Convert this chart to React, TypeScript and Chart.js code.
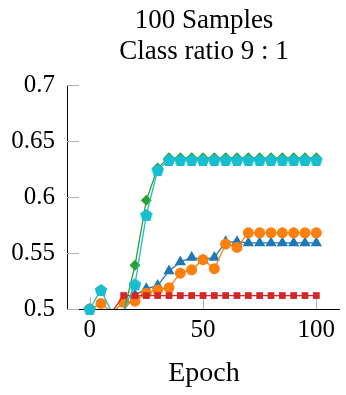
import React, { useEffect, useRef } from "react";
import { Chart, registerables } from "chart.js";

Chart.register(...registerables);

const epochs = [0, 5, 10, 15, 20, 25, 30, 35, 40, 45, 50, 55, 60, 65, 70, 75, 80, 85, 90, 95, 100];
const blueVals = [0.48, 0.48, 0.48, 0.499, 0.5125, 0.518, 0.521, 0.534, 0.542, 0.546, 0.544, 0.546, 0.56, 0.56, 0.559, 0.559, 0.559, 0.559, 0.559, 0.559, 0.559];
const orangeVals = [0.5, 0.505, 0.497, 0.506, 0.507, 0.514, 0.517, 0.519, 0.532, 0.535, 0.544, 0.536, 0.558, 0.555, 0.568, 0.568, 0.568, 0.568, 0.568, 0.568, 0.568];
const greenVals = [0.47, 0.47, 0.47, 0.497, 0.539, 0.597, 0.626, 0.635, 0.635, 0.635, 0.635, 0.635, 0.635, 0.635, 0.635, 0.635, 0.635, 0.635, 0.635, 0.635, 0.635];
const redVals = [0.48, 0.48, 0.498, 0.512, 0.512, 0.512, 0.512, 0.512, 0.512, 0.512, 0.512, 0.512, 0.512, 0.512, 0.512, 0.512, 0.512, 0.512, 0.512, 0.512, 0.512];
const cyanVals = [0.5, 0.517, 0.496, 0.499, 0.522, 0.584, 0.624, 0.633, 0.633, 0.633, 0.633, 0.633, 0.633, 0.633, 0.633, 0.633, 0.633, 0.633, 0.633, 0.633, 0.633];

const xTicks = [0, 50, 100];
const yTicks = [0.5, 0.55, 0.6, 0.65, 0.7];
const titleLines = ["100 Samples", "Class ratio 9 : 1"];
const xTitle = "Epoch";

const FONT = "'Liberation Serif', 'Times New Roman', serif";

function makePentagon(color: string, R: number) {
  const c = document.createElement("canvas");
  const S = Math.ceil(2 * R + 2);
  c.width = S;
  c.height = S;
  const g = c.getContext("2d")!;
  const cx = S / 2, cy = S / 2 + R * 0.1;
  g.beginPath();
  for (let k = 0; k < 5; k++) {
    const a = -Math.PI / 2 + (k * 2 * Math.PI) / 5;
    const px = cx + R * Math.cos(a);
    const py = cy + R * Math.sin(a);
    if (k === 0) g.moveTo(px, py);
    else g.lineTo(px, py);
  }
  g.closePath();
  g.fillStyle = color;
  g.fill();
  return c;
}

export default function App() {
  const ref = useRef<HTMLCanvasElement>(null);
  useEffect(() => {
    if (!ref.current) return;
    const cyan = "#17becf";
    const pent = makePentagon(cyan, 6.6);
    const series = [
      { vals: cyanVals, color: cyan, style: pent as any, r: 6.5 },
      { vals: redVals, color: "#d62728", style: "rect", r: 4.8 },
      { vals: greenVals, color: "#2ca02c", style: "rectRot", r: 5.5 },
      { vals: orangeVals, color: "#ff7f0e", style: "circle", r: 5.5 },
      { vals: blueVals, color: "#1f77b4", style: "triangle", r: 6.5 },
    ];
    const datasets: any[] = [];
    series.forEach((s) => {
      const pts = epochs.map((e, i) => ({ x: e, y: s.vals[i] }));
      datasets.push({
        data: pts,
        showLine: false,
        pointStyle: s.style,
        pointRadius: (ctx: any) => (ctx.raw && ctx.raw.y < 0.4999 ? 0 : s.r),
        backgroundColor: s.color,
        borderColor: s.color,
        pointBorderWidth: 0,
        clip: false,
      });
      datasets.push({
        data: pts,
        showLine: true,
        pointRadius: 0,
        borderColor: s.color,
        borderWidth: 1.3,
        clip: 0,
      });
    });

    const tickPlugin = {
      id: "innerTicks",
      beforeDatasetsDraw(chart: any) {
        const { ctx, chartArea, scales } = chart;
        ctx.save();
        ctx.strokeStyle = "#b0b0b0";
        ctx.lineWidth = 1;
        yTicks.forEach((v) => {
          const y = Math.round(scales.y.getPixelForValue(v)) + 0.5;
          ctx.beginPath();
          ctx.moveTo(chartArea.left, y);
          ctx.lineTo(chartArea.left + 12, y);
          ctx.stroke();
        });
        xTicks.forEach((v) => {
          const x = Math.round(scales.x.getPixelForValue(v)) + 0.5;
          ctx.beginPath();
          ctx.moveTo(x, chartArea.bottom);
          ctx.lineTo(x, chartArea.bottom - 12);
          ctx.stroke();
        });
        ctx.restore();
      },
      afterDraw(chart: any) {
        const { ctx, chartArea } = chart;
        const cx = (chartArea.left + chartArea.right) / 2 + 1;
        ctx.save();
        ctx.fillStyle = "#000";
        ctx.textAlign = "center";
        ctx.textBaseline = "alphabetic";
        ctx.font = `27px ${FONT}`;
        ctx.fillText(titleLines[0], cx, 28);
        ctx.fillText(titleLines[1], cx, 59);
        ctx.font = `28px ${FONT}`;
        ctx.fillText(xTitle, cx, 381);
        ctx.restore();
      },
    };

    const chart = new Chart(ref.current, {
      type: "scatter",
      data: { datasets },
      plugins: [tickPlugin],
      options: {
        animation: false,
        responsive: false,
        events: [],
        layout: { padding: { top: 85, right: 7, left: 0, bottom: 0 } },
        plugins: { legend: { display: false }, tooltip: { enabled: false }, title: { display: false } },
        scales: {
          x: {
            type: "linear",
            min: -10,
            max: 110,
            afterBuildTicks: (sc: any) => {
              sc.ticks = xTicks.map((v) => ({ value: v }));
            },
            afterFit: (sc: any) => {
              sc.height = 86;
            },
            grid: { display: false, drawTicks: false },
            border: { display: true, color: "#000", width: 1 },
            ticks: {
              padding: 6,
              color: "#000",
              font: { family: FONT, size: 25 },
              maxRotation: 0,
              autoSkip: false,
              callback: (v: any) => String(v),
            },
          },
          y: {
            type: "linear",
            min: 0.5,
            max: 0.7,
            afterBuildTicks: (sc: any) => {
              sc.ticks = yTicks.map((v) => ({ value: v }));
            },
            afterFit: (sc: any) => {
              sc.width = 67;
            },
            grid: { display: false, drawTicks: false },
            border: { display: true, color: "#000", width: 1 },
            ticks: {
              padding: 12,
              color: "#000",
              font: { family: FONT, size: 25 },
              autoSkip: false,
              callback: (v: any) => String(Math.round(v * 100) / 100),
            },
          },
        },
      } as any,
    });
    return () => chart.destroy();
  }, []);
  return (
    <div style={{ position: "fixed", left: 0, top: 0, width: 346, height: 395, background: "#fff" }}>
      <canvas ref={ref} width={346} height={395} style={{ width: 346, height: 395, display: "block" }} />
    </div>
  );
}
